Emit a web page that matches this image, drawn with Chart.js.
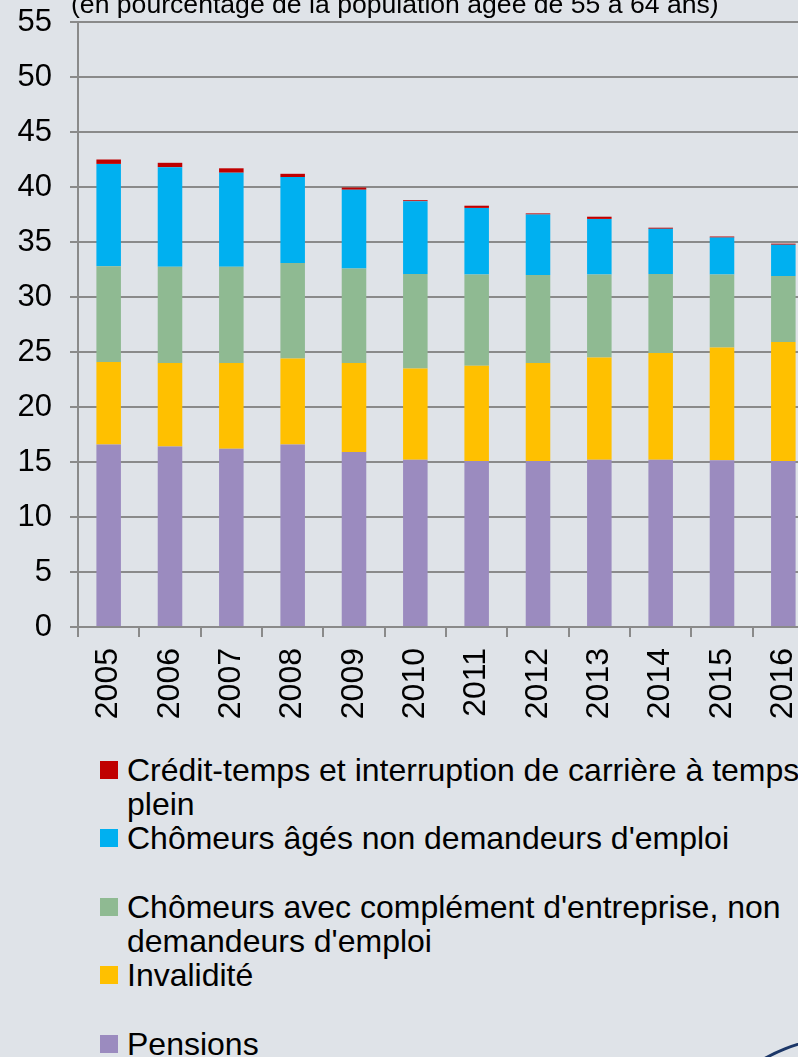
<!DOCTYPE html>
<html><head><meta charset="utf-8">
<script src="https://cdn.jsdelivr.net/npm/chart.js@4.4.0/dist/chart.umd.min.js"></script>
<style>
html,body{margin:0;padding:0;width:798px;height:1057px;overflow:hidden;background:#dfe3e8;font-family:'Liberation Sans',Arial,sans-serif;}
#wrap{position:relative;width:798px;height:1057px;overflow:hidden;}
#title{position:absolute;left:71px;top:-12px;font-size:26.6px;white-space:nowrap;color:#000;line-height:32px;}
#c{position:absolute;left:0;top:0;}
#legend{position:absolute;left:100px;top:753px;}
.item{display:flex;height:68.4px;align-items:flex-start;}
.sw{width:18px;height:18px;margin-top:8px;margin-right:9px;flex:none;}
.txt{font-size:32px;line-height:34.2px;width:690px;color:#000;}
#logo{position:absolute;left:681px;top:1036px;width:327px;height:327px;box-sizing:border-box;border:3.5px solid #1c3768;border-radius:50%;}
</style></head>
<body>
<div id="wrap">
<canvas id="c" width="814" height="730"></canvas>
<div id="title">(en pourcentage de la population âgée de 55 à 64 ans)</div>
<div id="legend"></div>
<div id="logo"></div>
</div>
<script>
const years = ['2005','2006','2007','2008','2009','2010','2011','2012','2013','2014','2015','2016'];
const pensions   = [16.6,16.4,16.2,16.6,15.9,15.2,15.1,15.1,15.2,15.2,15.15,15.1];
const invalidite = [7.5,7.6,7.8,7.8,8.1,8.3,8.65,8.9,9.3,9.7,10.25,10.8];
const complement = [8.7,8.75,8.75,8.7,8.6,8.6,8.3,8.0,7.55,7.2,6.65,6.0];
const agesNonDem = [9.3,9.05,8.55,7.8,7.15,6.6,6.05,5.5,5.05,4.1,3.35,2.85];
const creditTemps= [0.4,0.4,0.4,0.3,0.2,0.1,0.2,0.1,0.2,0.1,0.1,0.1];
const seriesNames = ['Pensions','Invalidité',"Chômeurs avec complément d'entreprise, non demandeurs d'emploi","Chômeurs âgés non demandeurs d'emploi",'Crédit-temps et interruption de carrière à temps plein'];
const seriesValues = [pensions, invalidite, complement, agesNonDem, creditTemps];
const seriesColors = ['#9b8bbf','#ffc000','#8fba92','#00b0f0','#c00000'];
const yMin = 0, yMax = 55, yStep = 5;

const FONT = "'Liberation Sans', Arial, sans-serif";
const datasets = seriesNames.map((n,i)=>({
  label:n, data:seriesValues[i], backgroundColor:seriesColors[i], borderWidth:0,
  categoryPercentage:1, barPercentage:0.4
}));

new Chart(document.getElementById('c'), {
  type:'bar',
  data:{labels:years, datasets},
  options:{
    responsive:false, animation:false, devicePixelRatio:1,
    layout:{padding:{top:22,left:0,right:0,bottom:0}},
    plugins:{legend:{display:false}, tooltip:{enabled:false}},
    scales:{
      x:{
        stacked:true,
        afterFit:s=>{s.height=103; s.paddingLeft=0; s.paddingRight=0;},
        grid:{display:true, drawOnChartArea:false, drawTicks:true, tickLength:10, color:'#8a8a8a', lineWidth:2, offset:true},
        border:{display:true, color:'#8a8a8a', width:2},
        ticks:{color:'#000', font:{family:FONT,size:32}, minRotation:90, maxRotation:90, padding:11, autoSkip:false}
      },
      y:{
        stacked:true, min:yMin, max:yMax,
        afterFit:s=>{s.width=78; s.paddingTop=0; s.paddingBottom=0;},
        grid:{color:'#8a8a8a', lineWidth:2, tickLength:8},
        border:{display:true, color:'#8a8a8a', width:2},
        ticks:{stepSize:yStep, color:'#000', font:{family:FONT,size:31}, padding:18}
      }
    }
  }
});

const leg = document.getElementById('legend');
for (let i = seriesNames.length-1; i >= 0; i--) {
  const it = document.createElement('div'); it.className='item';
  const sw = document.createElement('div'); sw.className='sw'; sw.style.background=seriesColors[i];
  const tx = document.createElement('div'); tx.className='txt'; tx.textContent=seriesNames[i];
  it.appendChild(sw); it.appendChild(tx); leg.appendChild(it);
}
</script>
</body></html>
